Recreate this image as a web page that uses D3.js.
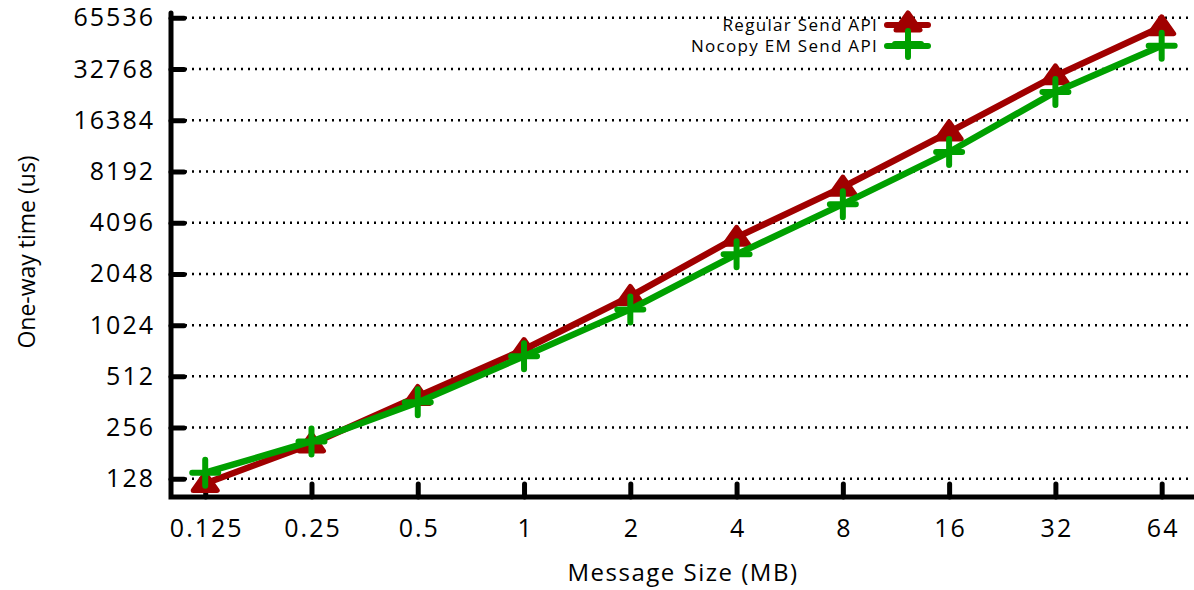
<!DOCTYPE html>
<html>
<head>
<meta charset="utf-8">
<script src="https://cdn.jsdelivr.net/npm/d3@7"></script>
<style>
  body { margin: 0; background: white; }
  text { font-family: "Open Sans", Lato, sans-serif; fill: #000; }
</style>
</head>
<body>
<script>
// message sizes (MB) and one-way times (us)
var sizes = [0.125, 0.25, 0.5, 1, 2, 4, 8, 16, 32, 64];
var sizeLabels = ["0.125", "0.25", "0.5", "1", "2", "4", "8", "16", "32", "64"];
var regularSend = [120, 205, 390, 736, 1510, 3360, 6630, 13980, 29900, 58100];
var nocopySend = [139, 212, 360, 672, 1267, 2670, 5265, 10660, 24050, 44900];
var yTicks = [128, 256, 512, 1024, 2048, 4096, 8192, 16384, 32768, 65536];

var series = [
    {name: "Regular Send API", values: regularSend, color: "#a00000", marker: "triangle"},
    {name: "Nocopy EM Send API", values: nocopySend, color: "#00a000", marker: "cross"}
];

var width = 1194, height = 590;
var plotLeft = 171, plotRight = 1192, plotTop = 13, plotBottom = 497;

var svg = d3.select("body").append("svg")
    .attr("width", width)
    .attr("height", height);

var x = d3.scaleLog().base(2).domain([0.1, 78]).range([plotLeft, plotRight]);
var y = d3.scaleLog().base(2).domain([100, 70000]).range([plotBottom, plotTop]);

//dotted grid
svg.append("g").selectAll("line")
    .data(yTicks)
    .enter().append("line")
    .attr("x1", plotLeft + 14)
    .attr("x2", plotRight)
    .attr("y1", function(d){ return y(d); })
    .attr("y2", function(d){ return y(d); })
    .style("stroke", "#000")
    .style("stroke-width", 2.5)
    .style("stroke-dasharray", "2,5");

//y axis
var yAxis = svg.append("g")
    .attr("transform", "translate(" + plotLeft + ",0)")
    .call(d3.axisLeft(y).tickValues(yTicks).tickFormat(d3.format("d")).tickSize(-13).tickPadding(16));

//x axis
var xAxis = svg.append("g")
    .attr("transform", "translate(0," + plotBottom + ")")
    .call(d3.axisBottom(x).tickValues(sizes).tickFormat(function(d, i){ return sizeLabels[i]; }).tickSize(-13).tickPadding(22));

[yAxis, xAxis].forEach(function(a){
    a.select(".domain").remove();
    a.selectAll(".tick line")
        .style("stroke", "#000")
        .style("stroke-width", 5)
        .style("stroke-linecap", "round");
    a.selectAll(".tick text")
        .style("font-size", "25px")
        .style("letter-spacing", "2px")
        .style("font-family", "'Open Sans', sans-serif");
});
xAxis.selectAll(".tick text").attr("dx", "1px");

//axis frame (left + bottom)
svg.append("path")
    .attr("d", "M" + plotLeft + "," + plotTop + "V" + plotBottom + "H" + (plotRight + 2))
    .style("fill", "none")
    .style("stroke", "#000")
    .style("stroke-width", 5)
    .style("stroke-linecap", "round")
    .style("stroke-linejoin", "miter");

//axis titles
svg.append("text")
    .attr("x", 683)
    .attr("y", 581)
    .attr("text-anchor", "middle")
    .style("font-size", "24px")
    .style("letter-spacing", "1.5px")
    .text("Message Size (MB)");

svg.append("text")
    .attr("transform", "translate(35,252) rotate(-90)")
    .attr("text-anchor", "middle")
    .style("font-size", "23px")
    .text("One-way time (us)");

function drawMarker(g, type, color){
    if(type == "triangle"){
        g.append("path")
            .attr("d", "M0,-10L12,7L-12,7Z")
            .style("fill", color)
            .style("stroke", color)
            .style("stroke-width", 5)
            .style("stroke-linejoin", "round");
    }else{
        g.append("path")
            .attr("d", "M-13,0H13M0,-13V13")
            .style("stroke", color)
            .style("stroke-width", 6)
            .style("stroke-linecap", "round");
    }
}

var line = d3.line()
    .x(function(d){ return x(d[0]); })
    .y(function(d){ return y(d[1]); });

series.forEach(function(s){
    var pts = sizes.map(function(d, i){ return [d, s.values[i]]; });
    var g = svg.append("g").attr("class", "series");
    g.append("path")
        .datum(pts)
        .attr("d", line)
        .style("fill", "none")
        .style("stroke", s.color)
        .style("stroke-width", 6.5)
        .style("stroke-linejoin", "round")
        .style("stroke-linecap", "round");
    pts.forEach(function(p){
        var m = g.append("g").attr("transform", "translate(" + x(p[0]) + "," + y(p[1]) + ")");
        drawMarker(m, s.marker, s.color);
    });
});

//legend
var legend = svg.append("g").attr("class", "legend");
series.forEach(function(s, i){
    var ly = 25 + i * 21;
    legend.append("text")
        .attr("x", 878)
        .attr("y", ly)
        .attr("dy", "0.35em")
        .attr("text-anchor", "end")
        .style("font-size", "17px")
        .style("letter-spacing", "1.3px")
        .text(s.name);
    legend.append("line")
        .attr("x1", 887).attr("x2", 928)
        .attr("y1", ly).attr("y2", ly)
        .style("stroke", s.color)
        .style("stroke-width", 6)
        .style("stroke-linecap", "round");
    var m = legend.append("g").attr("transform", "translate(908," + (ly - 2) + ")");
    drawMarker(m, s.marker, s.color);
});
</script>
</body>
</html>
